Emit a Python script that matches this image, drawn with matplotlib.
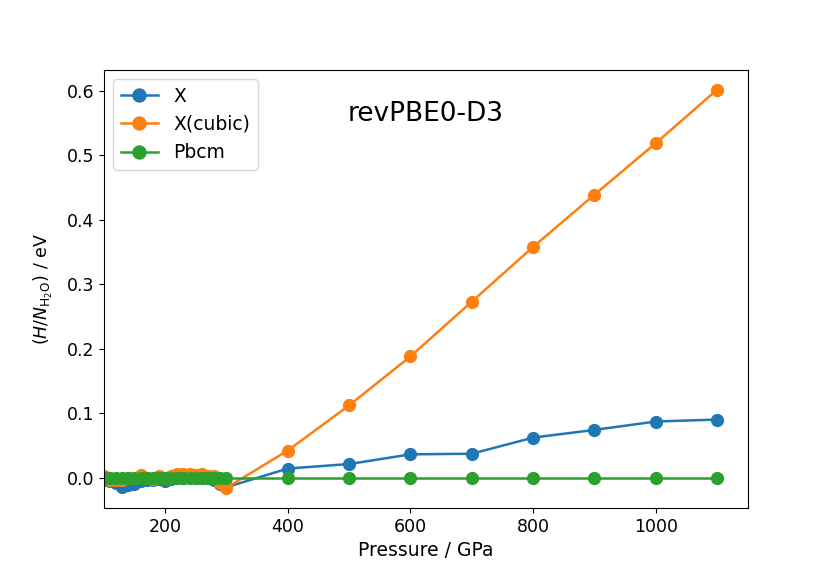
import matplotlib
matplotlib.use('Agg')
import matplotlib.pyplot as plt
import numpy as np

# pressures in GPa
p_low = list(range(100, 310, 10))
p_high = [400, 500, 600, 700, 800, 900, 1000, 1100]

# enthalpy relative to Pbcm (eV per H2O)
x_low = [-0.003, -0.005, -0.008, -0.015, -0.012, -0.010, -0.005, -0.003, -0.004, -0.002,
         -0.006, -0.002, -0.001, 0.000, 0.001, -0.001, 0.000, -0.001, -0.003, -0.010, -0.015]
x_high = [0.014, 0.021, 0.036, 0.037, 0.062, 0.074, 0.087, 0.090]

xc_low = [0.002, -0.003, -0.004, -0.003, -0.001, 0.000, 0.004, 0.000, -0.002, 0.002,
          0.000, 0.003, 0.005, 0.006, 0.005, 0.004, 0.006, 0.003, 0.002, -0.008, -0.016]
xc_high = [0.042, 0.112, 0.188, 0.273, 0.358, 0.439, 0.519, 0.602]

pressure = p_low + p_high
h_x = x_low + x_high
h_xcubic = xc_low + xc_high
h_pbcm = [0.0] * len(pressure)

plt.rcParams['font.size'] = 12.5

fig, ax = plt.subplots(figsize=(8.3, 5.81), dpi=100)
fig.subplots_adjust(left=0.125, right=0.901, top=0.880, bottom=0.126)

ax.plot(pressure, h_x, 'o-', lw=1.8, ms=8.5, label='X')
ax.plot(pressure, h_xcubic, 'o-', lw=1.8, ms=8.5, label='X(cubic)')
ax.plot(pressure, h_pbcm, 'o-', lw=1.8, ms=8.5, label='Pbcm')

ax.set_xlim(left=100)
ax.set_xlabel('Pressure / GPa', fontsize=13.5)
ax.set_ylabel(r'$(H/N_{\mathrm{H_2O}})$ / eV', fontsize=12.5, labelpad=8)
ax.text(0.5, 0.9, 'revPBE0-D3', transform=ax.transAxes, ha='center', va='center', fontsize=19)
ax.legend(loc='upper left', fontsize=13.5, markerscale=1.1)

fig.savefig('out.png', dpi=100)
